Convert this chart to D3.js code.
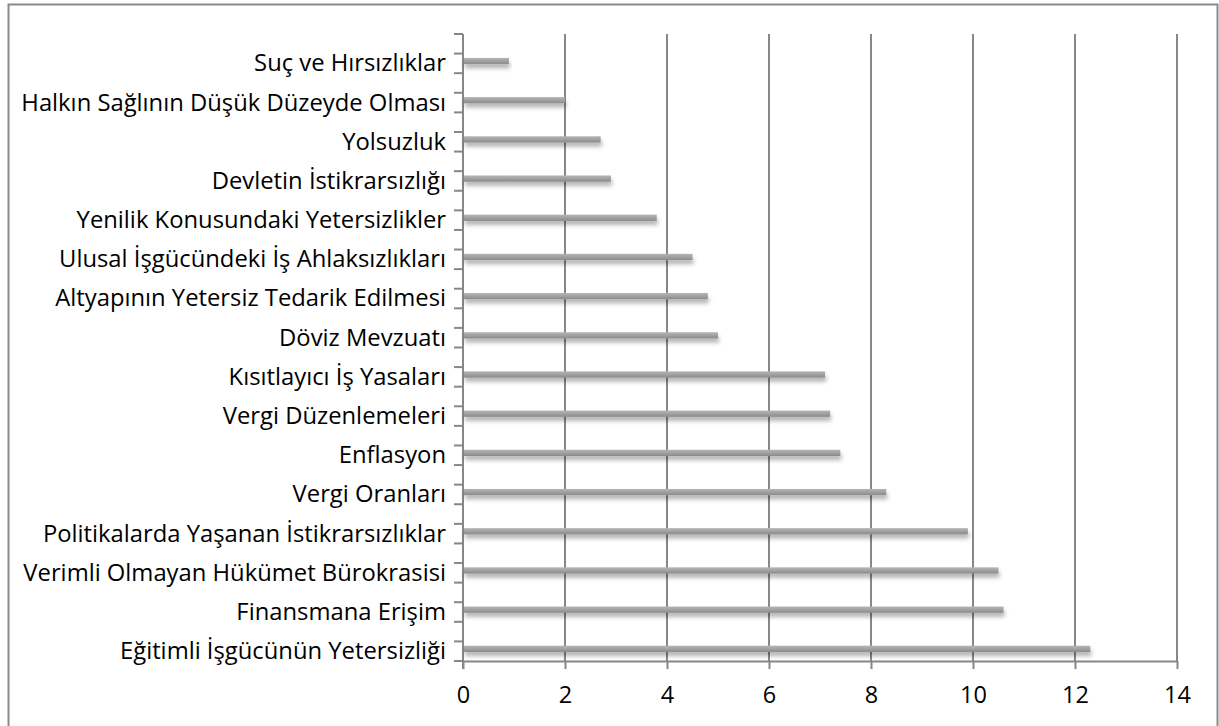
<!DOCTYPE html>
<html>
<head>
<meta charset="utf-8">
<script src="https://cdn.jsdelivr.net/npm/d3@7"></script>
<style>
	body { margin: 0; background: #fff; }
	text { font-family: "Open Sans", Lato, sans-serif; fill: #000; }
</style>
</head>
<body>
<div id="container"></div>
<script>
// 1. Data
const categories = [
	"Suç ve Hırsızlıklar",
	"Halkın Sağlının Düşük Düzeyde Olması",
	"Yolsuzluk",
	"Devletin İstikrarsızlığı",
	"Yenilik Konusundaki Yetersizlikler",
	"Ulusal İşgücündeki İş Ahlaksızlıkları",
	"Altyapının Yetersiz Tedarik Edilmesi",
	"Döviz Mevzuatı",
	"Kısıtlayıcı İş Yasaları",
	"Vergi Düzenlemeleri",
	"Enflasyon",
	"Vergi Oranları",
	"Politikalarda Yaşanan İstikrarsızlıklar",
	"Verimli Olmayan Hükümet Bürokrasisi",
	"Finansmana Erişim",
	"Eğitimli İşgücünün Yetersizliği",
]
const values = [0.9, 2.0, 2.7, 2.9, 3.8, 4.5, 4.8, 5.0, 7.1, 7.2, 7.4, 8.3, 9.9, 10.5, 10.6, 12.3]
const xTicks = [0, 2, 4, 6, 8, 10, 12, 14]

const data = categories.map((c, i) => ({ category: c, value: values[i] }))

// 2. Dimensions
const width = 1219
const height = 726
const margin = { top: 34, right: 42, bottom: 65, left: 463 }
const boundedWidth = width - margin.left - margin.right
const boundedHeight = height - margin.top - margin.bottom

// 3. Canvas
const svg = d3.select("#container")
	.append("svg")
	.attr("width", width)
	.attr("height", height)

const defs = svg.append("defs")

const grad = defs.append("linearGradient")
	.attr("id", "barGrad")
	.attr("x1", 0).attr("y1", 0)
	.attr("x2", 0).attr("y2", 1)
grad.append("stop").attr("offset", "0%").attr("stop-color", "#b4b4b4")
grad.append("stop").attr("offset", "45%").attr("stop-color", "#a3a3a3")
grad.append("stop").attr("offset", "100%").attr("stop-color", "#8a8a8a")

const shadow = defs.append("filter")
	.attr("id", "shadow")
	.attr("x", "-5%").attr("y", "-100%")
	.attr("width", "110%").attr("height", "400%")
shadow.append("feDropShadow")
	.attr("dx", 1)
	.attr("dy", 4)
	.attr("stdDeviation", 2)
	.attr("flood-color", "#000")
	.attr("flood-opacity", 0.3)

// outer frame
svg.append("rect")
	.attr("x", 8.5)
	.attr("y", 4.5)
	.attr("width", 1209)
	.attr("height", 740)
	.attr("fill", "none")
	.attr("stroke", "#8a8a8a")
	.attr("stroke-width", 2)

const bounds = svg.append("g")
	.attr("transform", `translate(${margin.left}, ${margin.top})`)

// 4. Scales
const x = d3.scaleLinear()
	.domain([0, 14])
	.range([0, boundedWidth])

const y = d3.scaleBand()
	.domain(categories)
	.range([0, boundedHeight])

const bw = y.bandwidth()

// 5. Gridlines + axes
const gridColor = "#878787"

bounds.append("g")
	.selectAll("line")
	.data(xTicks.slice(1))
	.join("line")
	.attr("x1", d => x(d))
	.attr("x2", d => x(d))
	.attr("y1", 0)
	.attr("y2", boundedHeight)
	.attr("stroke", gridColor)
	.attr("stroke-width", 2)

const xAxis = bounds.append("g")
	.attr("transform", `translate(0, ${boundedHeight})`)
	.call(d3.axisBottom(x).tickValues(xTicks).tickSize(8).tickPadding(17).tickSizeOuter(0))
xAxis.select(".domain").attr("stroke", gridColor).attr("stroke-width", 2)
xAxis.selectAll(".tick line").attr("stroke", gridColor).attr("stroke-width", 2)
xAxis.selectAll(".tick text")
	.attr("font-size", 23.5)
	.attr("fill", "#000")

// half-band ticks on the category axis
const yTickPos = d3.range(categories.length * 2 + 1).map(i => i * bw / 2)
bounds.append("g")
	.selectAll("line")
	.data(yTickPos)
	.join("line")
	.attr("x1", -9)
	.attr("x2", 0)
	.attr("y1", d => d)
	.attr("y2", d => d)
	.attr("stroke", gridColor)
	.attr("stroke-width", 2)

bounds.append("line")
	.attr("x1", 0)
	.attr("x2", 0)
	.attr("y1", 0)
	.attr("y2", boundedHeight + 8)
	.attr("stroke", gridColor)
	.attr("stroke-width", 2)

// 6. Bars
bounds.append("g")
	.selectAll("rect")
	.data(data)
	.join("rect")
	.attr("x", 1)
	.attr("y", d => y(d.category) + bw * 0.61)
	.attr("width", d => x(d.value) - 1)
	.attr("height", bw * 0.16)
	.attr("fill", "url(#barGrad)")
	.attr("filter", "url(#shadow)")

// 7. Category labels
bounds.append("g")
	.selectAll("text")
	.data(data)
	.join("text")
	.attr("x", -17)
	.attr("y", d => y(d.category) + bw * 0.74)
	.attr("dy", "0.35em")
	.attr("text-anchor", "end")
	.attr("font-size", 23.8)
	.text(d => d.category)
</script>
</body>
</html>
